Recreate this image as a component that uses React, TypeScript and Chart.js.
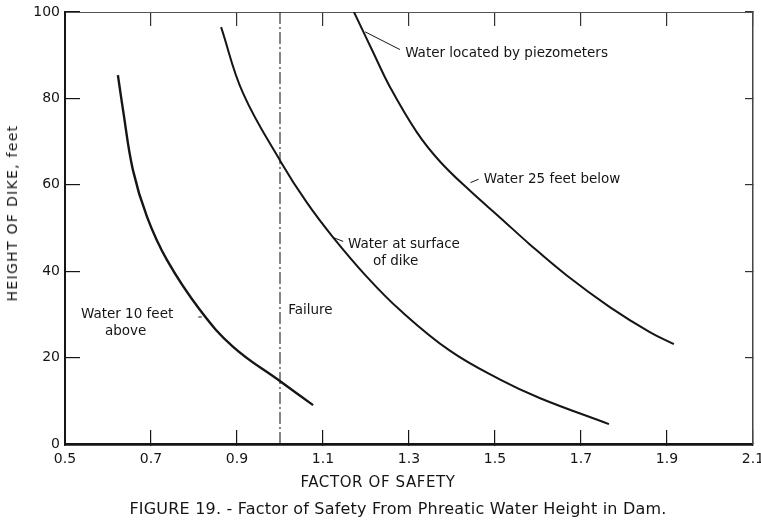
import React, { useEffect, useRef } from "react";
import { Chart, registerables } from "chart.js";

Chart.register(...registerables);

// ---- data (factor of safety vs height of dike, feet) ----
const above10X = [0.623, 0.635, 0.658, 0.691, 0.737, 0.814, 0.891, 1.002, 1.077];
const above10Y = [85.4, 77.3, 63.4, 52.5, 42.6, 31.0, 22.5, 14.4, 9.0];

const surfaceX = [0.863, 0.914, 1.002, 1.063, 1.123, 1.202, 1.279, 1.395, 1.512, 1.605, 1.765];
const surfaceY = [96.5, 81.2, 65.3, 55.8, 47.9, 38.7, 31.0, 21.6, 14.9, 10.6, 4.6];

const below25X = [1.172, 1.216, 1.256, 1.318, 1.372, 1.442, 1.512, 1.581, 1.667, 1.767, 1.86, 1.916];
const below25Y = [100, 90.8, 82.6, 72.2, 65.4, 58.6, 52.4, 46.2, 39.0, 31.7, 25.9, 23.1];

const failureX = [1.0, 1.0];
const failureY = [0, 100];

const xRange = [0.5, 2.1];
const xStep = 0.2;
const yRange = [0, 100];
const yStep = 20;

const xTitle = "FACTOR OF SAFETY";
const yTitle = "HEIGHT OF DIKE, feet";
const caption = "FIGURE 19. - Factor of Safety From Phreatic Water Height in Dam.";

// curve notes (anchored in data units)
const notes = [
  { lines: ["Water located by piezometers"], x: 1.291, y: 90.5, leader: [1.198, 95.4, 1.279, 91.3] },
  { lines: ["Water 25 feet below"], x: 1.474, y: 61.3, leader: [1.443, 60.5, 1.462, 61.3] },
  { lines: ["Water at surface", "of dike"], x: 1.158, y: 46.1, leader: [1.121, 47.9, 1.147, 46.9] },
  { lines: ["Failure"], x: 1.019, y: 31.0, leader: null },
  { lines: ["Water 10 feet", "above"], x: 0.537, y: 29.9, leader: [0.81, 29.4, 0.818, 29.4] },
];
const secondLineShift = [0, 0, 25, 0, 24];

const toPts = (xs: number[], ys: number[]) => xs.map((x, i) => ({ x, y: ys[i] }));

const FONT = '"DejaVu Sans", "Liberation Sans", sans-serif';
const INK = "#151515";

const notesPlugin = {
  id: "curveNotes",
  afterDatasetsDraw(chart: any) {
    const { ctx, scales } = chart;
    const sx = scales.x;
    const sy = scales.y;
    ctx.save();
    ctx.font = `13.5px ${FONT}`;
    ctx.fillStyle = INK;
    ctx.strokeStyle = INK;
    ctx.lineWidth = 1;
    ctx.textBaseline = "middle";
    ctx.textAlign = "left";
    notes.forEach((n, k) => {
      const px = sx.getPixelForValue(n.x);
      const py = sy.getPixelForValue(n.y);
      n.lines.forEach((ln, i) => {
        ctx.fillText(ln, px + (i > 0 ? secondLineShift[k] : 0), py + i * 17);
      });
      if (n.leader) {
        ctx.beginPath();
        ctx.moveTo(sx.getPixelForValue(n.leader[0]), sy.getPixelForValue(n.leader[1]));
        ctx.lineTo(sx.getPixelForValue(n.leader[2]), sy.getPixelForValue(n.leader[3]));
        ctx.stroke();
      }
    });
    ctx.restore();
  },
};

export default function App() {
  const ref = useRef<HTMLCanvasElement | null>(null);

  useEffect(() => {
    if (!ref.current) return;
    Chart.defaults.font.family = FONT;
    Chart.defaults.color = INK;

    const curve = (label: string, xs: number[], ys: number[], w: number) => ({
      label,
      data: toPts(xs, ys),
      borderColor: INK,
      borderWidth: w,
      pointRadius: 0,
      fill: false,
      tension: 0.4,
      xAxisID: "x",
      yAxisID: "y",
    });

    const chart = new Chart(ref.current, {
      type: "line",
      data: {
        datasets: [
          curve("Water 10 feet above", above10X, above10Y, 2.4),
          curve("Water at surface of dike", surfaceX, surfaceY, 2),
          curve("Water 25 feet below", below25X, below25Y, 2),
          {
            label: "Failure",
            data: toPts(failureX, failureY),
            borderColor: "#222",
            borderWidth: 1.1,
            borderDash: [12, 3, 2, 3],
            pointRadius: 0,
            fill: false,
            xAxisID: "x",
            yAxisID: "y",
          },
        ],
      },
      options: {
        animation: false,
        responsive: false,
        devicePixelRatio: 1,
        layout: { padding: { left: 0, right: 8, top: 12, bottom: 0 } },
        plugins: { legend: { display: false }, tooltip: { enabled: false }, title: { display: false } },
        scales: {
          x: {
            type: "linear",
            position: "bottom",
            min: xRange[0],
            max: xRange[1],
            ticks: {
              stepSize: xStep,
              padding: 21,
              font: { size: 14 },
              color: INK,
              maxRotation: 0,
              autoSkip: false,
              callback: (v: any) => Number(v).toFixed(1),
            },
            grid: { drawOnChartArea: false, tickLength: -14, color: INK, lineWidth: 1.2 },
            border: { color: INK, width: 2.8 },
            afterFit: (s: any) => {
              s.height = 79;
              s.paddingLeft = 0;
              s.paddingRight = 0;
            },
          },
          x2: {
            type: "linear",
            position: "top",
            min: xRange[0],
            max: xRange[1],
            ticks: { stepSize: xStep, display: false },
            grid: { drawOnChartArea: false, tickLength: -14, color: "#333", lineWidth: 1.2 },
            border: { color: "#555", width: 1 },
            afterFit: (s: any) => {
              s.height = 0;
              s.paddingLeft = 0;
              s.paddingRight = 0;
            },
          },
          y: {
            type: "linear",
            position: "left",
            min: yRange[0],
            max: yRange[1],
            ticks: { stepSize: yStep, padding: 20, font: { size: 14 }, color: INK },
            grid: { drawOnChartArea: false, tickLength: -15, color: INK, lineWidth: 1.2 },
            border: { color: INK, width: 2 },
            afterFit: (s: any) => {
              s.width = 65;
              s.paddingTop = 0;
              s.paddingBottom = 0;
            },
          },
          y2: {
            type: "linear",
            position: "right",
            min: yRange[0],
            max: yRange[1],
            ticks: { stepSize: yStep, display: false },
            grid: { drawOnChartArea: false, tickLength: -8, color: "#333", lineWidth: 1.2 },
            border: { color: "#444", width: 1.5 },
            afterFit: (s: any) => {
              s.width = 0;
              s.paddingTop = 0;
              s.paddingBottom = 0;
            },
          },
        },
      },
      plugins: [notesPlugin],
    });
    return () => chart.destroy();
  }, []);

  const txt: React.CSSProperties = {
    position: "absolute",
    fontFamily: FONT,
    color: INK,
    whiteSpace: "nowrap",
    transform: "translate(-50%, -50%)",
  };

  return (
    <div
      style={{
        position: "fixed",
        left: 0,
        top: 0,
        width: 761,
        height: 523,
        overflow: "hidden",
        background: "#fff",
      }}
    >
      <canvas ref={ref} width={761} height={523} style={{ position: "absolute", left: 0, top: 0 }} />
      <div
        style={{
          ...txt,
          left: 12,
          top: 213,
          fontSize: 14,
          letterSpacing: "1.3px",
          transform: "translate(-50%, -50%) rotate(-90deg)",
        }}
      >
        {yTitle}
      </div>
      <div style={{ ...txt, left: 378, top: 482, fontSize: 15, letterSpacing: "0.6px" }}>{xTitle}</div>
      <div style={{ ...txt, left: 398, top: 508, fontSize: 16, letterSpacing: "0.2px" }}>{caption}</div>
    </div>
  );
}
